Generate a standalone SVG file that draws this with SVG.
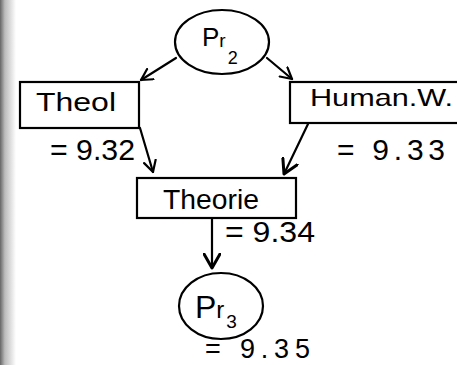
<svg xmlns="http://www.w3.org/2000/svg" width="457" height="365" viewBox="0 0 457 365">
<defs>
<linearGradient id="edge" x1="0" y1="0" x2="1" y2="0">
<stop offset="0" stop-color="#666"/>
<stop offset="0.3" stop-color="#bbb"/>
<stop offset="1" stop-color="#fff"/>
</linearGradient>
<marker id="ah" markerWidth="14" markerHeight="14" refX="12" refY="7" orient="auto" markerUnits="userSpaceOnUse">
<path d="M1,1 L12,7 L1,13" fill="none" stroke="#000" stroke-width="2.2" stroke-linecap="round" stroke-linejoin="round"/>
</marker>
<marker id="ahb" markerWidth="18" markerHeight="18" refX="15" refY="9" orient="auto" markerUnits="userSpaceOnUse">
<path d="M1,1 L15,9 L1,17" fill="none" stroke="#000" stroke-width="3" stroke-linecap="round" stroke-linejoin="round"/>
</marker>
</defs>
<style>
.shape{fill:#fff;stroke:#000;stroke-width:2.2}
.lbl{font-family:"Liberation Sans","DejaVu Sans",sans-serif;fill:#000}
.conn{fill:none;stroke:#000;stroke-width:2.2;stroke-linecap:round}
</style>
<rect x="0" y="0" width="457" height="365" fill="#fff"/>
<rect x="0" y="0" width="16" height="365" fill="url(#edge)"/>
<g id="connectors">
<line class="conn" x1="176" y1="58" x2="141" y2="80" marker-end="url(#ah)"/>
<line class="conn" x1="267" y1="58" x2="292" y2="79" marker-end="url(#ah)"/>
<line class="conn" x1="140" y1="128" x2="153" y2="172" marker-end="url(#ah)"/>
<line class="conn" x1="308" y1="124" x2="284" y2="174" stroke-width="3" marker-end="url(#ahb)"/>
<line class="conn" x1="212" y1="219" x2="212" y2="268" stroke-width="3" marker-end="url(#ahb)"/>
</g>
<g id="pr2">
<ellipse class="shape" cx="222" cy="42" rx="47" ry="32"/>
<text class="lbl" x="202" y="46" font-size="26">P<tspan font-size="19" dy="1">r</tspan><tspan font-size="18" dx="2" dy="17">2</tspan></text>
</g>
<g id="theol">
<rect class="shape" x="20" y="82" width="119" height="46"/>
<text class="lbl" x="36" y="111" font-size="26" textLength="80" lengthAdjust="spacingAndGlyphs">Theol</text>
<text class="lbl" x="50" y="160" font-size="30" textLength="85" lengthAdjust="spacingAndGlyphs">= 9.32</text>
</g>
<g id="humanw">
<rect class="shape" x="290" y="82" width="175" height="41"/>
<text class="lbl" x="310" y="106" font-size="24" textLength="143" lengthAdjust="spacingAndGlyphs">Human.W.</text>
<text class="lbl" x="337" y="160" font-size="30" textLength="108" lengthAdjust="spacing">= 9.33</text>
</g>
<g id="theorie">
<rect class="shape" x="137" y="178" width="159" height="40" stroke-width="3"/>
<text class="lbl" x="163" y="209" font-size="28" textLength="96" lengthAdjust="spacingAndGlyphs">Theorie</text>
<text class="lbl" x="225" y="242" font-size="29" textLength="90" lengthAdjust="spacingAndGlyphs">= 9.34</text>
</g>
<g id="pr3">
<ellipse class="shape" cx="221" cy="306" rx="42" ry="33"/>
<text class="lbl" x="195" y="318" font-size="32">P<tspan font-size="24">r</tspan><tspan font-size="19" dx="2" dy="10">3</tspan></text>
<text class="lbl" x="205" y="358" font-size="27" textLength="105" lengthAdjust="spacing">= 9.35</text>
</g>
</svg>
